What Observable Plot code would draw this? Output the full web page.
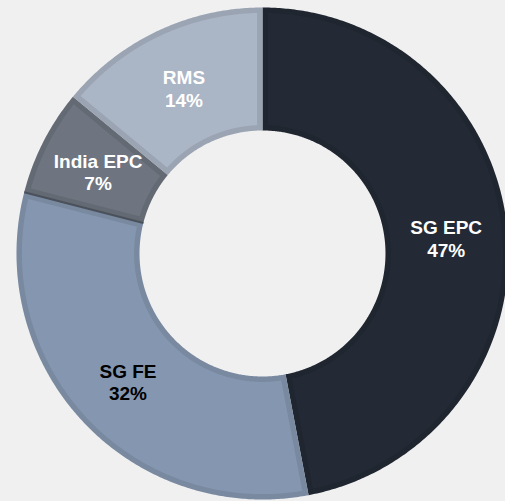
<!DOCTYPE html>
<html>
<head>
<meta charset="utf-8">
<script src="https://cdn.jsdelivr.net/npm/d3@7"></script>
<script src="https://cdn.jsdelivr.net/npm/@observablehq/plot@0.6"></script>
<style>
  html, body { margin: 0; padding: 0; background: #f0f0f0; }
  #chart svg { display: block; background: transparent; }
</style>
</head>
<body>
<div id="chart"></div>
<script>
// Data
const categories = ["SG EPC", "SG FE", "India EPC", "RMS"];
const shares = [47, 32, 7, 14];

// Build slices (angles clockwise from 12 o'clock)
const total = d3.sum(shares);
let acc = 0;
const slices = categories.map((name, i) => {
  const a0 = acc / total * 2 * Math.PI;
  acc += shares[i];
  const a1 = acc / total * 2 * Math.PI;
  return {name, share: shares[i], a0, a1, mid: (a0 + a1) / 2};
});

const R_OUT = 1, R_IN = 0.5, BEVEL = 0.022;

function ring(s, rOut, rIn, inset) {
  const pts = [];
  const n = Math.max(8, Math.ceil((s.a1 - s.a0) / (Math.PI / 360)));
  let da = inset / rOut;
  for (let k = 0; k <= n; k++) {
    const a = s.a0 + da + (s.a1 - s.a0 - 2 * da) * k / n;
    pts.push({name: s.name, x: rOut * Math.sin(a), y: rOut * Math.cos(a)});
  }
  da = inset / rIn;
  for (let k = n; k >= 0; k--) {
    const a = s.a0 + da + (s.a1 - s.a0 - 2 * da) * k / n;
    pts.push({name: s.name, x: rIn * Math.sin(a), y: rIn * Math.cos(a)});
  }
  return pts;
}

const outerPts = slices.flatMap(s => ring(s, R_OUT, R_IN, 0));
const innerPts = slices.flatMap(s => ring(s, R_OUT - BEVEL, R_IN + BEVEL, BEVEL));

const labels = slices.map(s => ({
  name: s.name,
  text: `${s.name}\n${s.share}%`,
  x: 0.75 * Math.sin(s.mid),
  y: 0.75 * Math.cos(s.mid)
}));

// separator between India EPC and SG FE
const sep = slices.filter(s => s.name === "India EPC").map(s => ({
  x1: R_IN * Math.sin(s.a0), y1: R_IN * Math.cos(s.a0),
  x2: R_OUT * Math.sin(s.a0), y2: R_OUT * Math.cos(s.a0)
}));

const font = "'Liberation Sans', Arial, sans-serif";

const chart = Plot.plot({
  width: 505,
  height: 501,
  margin: 0,
  style: {background: "transparent"},
  x: {domain: [-1, 1], range: [16, 508], axis: null},
  y: {domain: [-1, 1], range: [499, 7], axis: null},
  color: {
    domain: categories,
    range: ["#232a35", "#8597b0", "#6e7580", "#aab5c5"]
  },
  marks: [
    Plot.line(outerPts, {x: "x", y: "y", z: "name", fill: "name", stroke: "none"}),
    Plot.line(outerPts, {x: "x", y: "y", z: "name", fill: "black", fillOpacity: 0.09, stroke: "none"}),
    Plot.line(innerPts, {x: "x", y: "y", z: "name", fill: "name", stroke: "none"}),
    Plot.link(sep, {x1: "x1", y1: "y1", x2: "x2", y2: "y2", stroke: "#4a515b", strokeWidth: 2}),
    Plot.text(labels.filter(d => d.name !== "SG FE"), {
      x: "x", y: "y", dy: 2, text: "text", fill: "white",
      fontSize: 19, fontWeight: "bold", fontFamily: font,
      lineHeight: 1.2, textAnchor: "middle"
    }),
    Plot.text(labels.filter(d => d.name === "SG FE"), {
      x: "x", y: "y", dy: 2, text: "text", fill: "black",
      fontSize: 19, fontWeight: "bold", fontFamily: font,
      lineHeight: 1.2, textAnchor: "middle"
    })
  ]
});
document.getElementById("chart").appendChild(chart);
</script>
</body>
</html>
